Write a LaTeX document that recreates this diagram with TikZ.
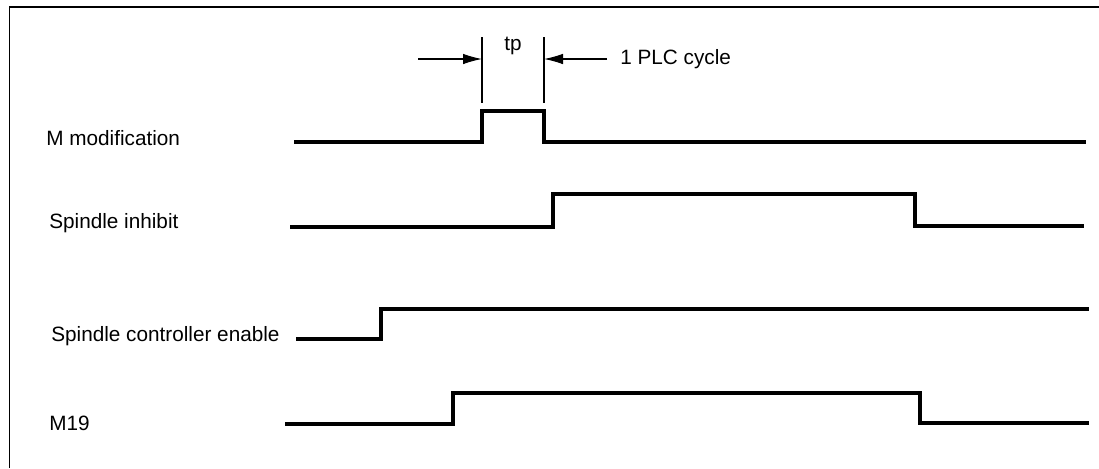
\documentclass[tikz,border=0pt]{standalone}
\usepackage{fontspec}
\setmainfont{Liberation Sans}
\usetikzlibrary{arrows.meta,positioning}

\begin{document}
\begin{tikzpicture}[x=0.02cm,y=-0.02cm,font=\fontsize{11.8}{14}\selectfont,
 sig/.style={line width=1.8pt,line join=miter},
 lbl/.style={anchor=west,inner sep=0pt},
 dim/.style={line width=0.6pt},
 tip/.style={-{Latex[length=3.8mm,width=2.1mm]},line width=0.6pt}]
\useasboundingbox (0,0) rectangle (1099,468);
% frame (top and left only)
\draw[line width=0.9pt] (9.5,468) -- (9.5,7) -- (1099,7);
% signal names
\node[lbl](mmod) at (46,138){M modification};
\node[lbl](inh) at (49,223){Spindle inhibit};
\node[lbl](ena) at (51,336){Spindle controller enable};
\node[lbl](m19) at (49,423){M19};
% signals
\draw[sig] (294,142) -- (482,142) -- (482,111) -- (544,111) -- (544,142) -- (1086,142);
\draw[sig] (290,227) -- (553,227) -- (553,194) -- (915,194) -- (915,226) -- (1084,226);
\draw[sig] (296,339) -- (381,339) -- (381,309) -- (1089,309);
\draw[sig] (285,424) -- (453,424) -- (453,393) -- (920,393) -- (920,423) -- (1089,423);
% tp = 1 PLC cycle
\coordinate (ta) at (482,37); \coordinate (tb) at (544,37);
\draw[dim] (ta) -- +(0,66); \draw[dim] (tb) -- +(0,66);
\coordinate (la) at (418,59); \coordinate (ra) at (607,59);
\draw[tip] (la) -- (ta|-la);
\draw[tip] (ra) -- (tb|-ra);
\node(tp) at (513,46){tp};
\node[lbl](plc) at (620,59){1 PLC cycle};
\end{tikzpicture}
\end{document}
